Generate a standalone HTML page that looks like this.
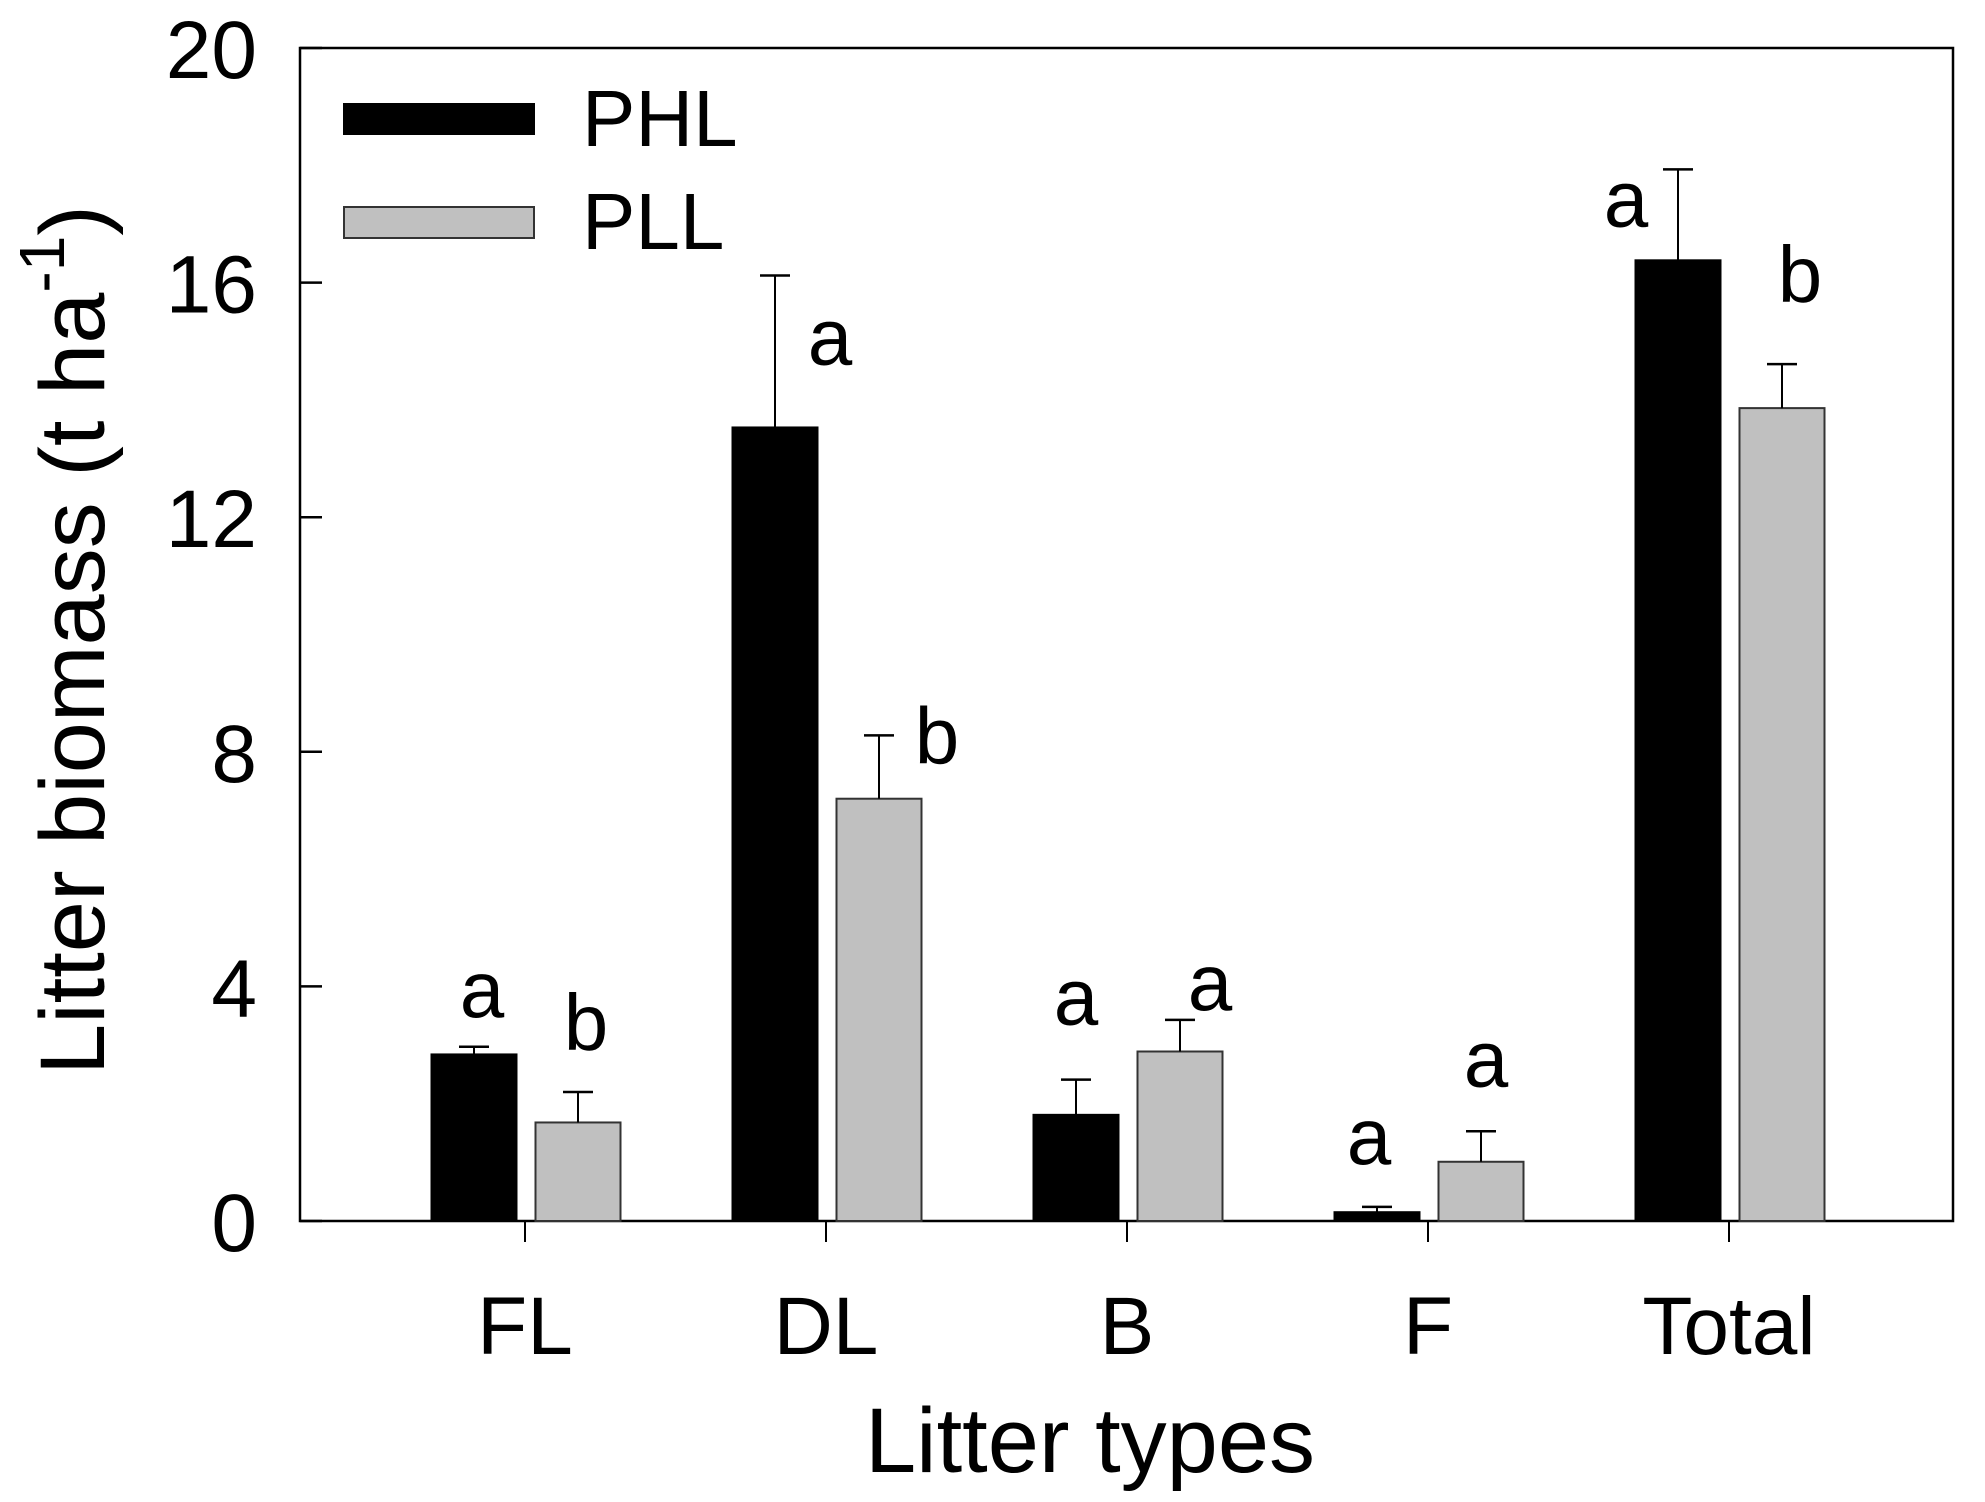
<!DOCTYPE html>
<html><head><meta charset="utf-8"><style>
html,body{margin:0;padding:0;background:#fff;}
svg{display:block;font-family:"Liberation Sans",sans-serif;}
</style></head><body>
<svg id="chart" width="1985" height="1502" viewBox="0 0 1985 1502">
<rect x="300" y="48" width="1653" height="1173" fill="#fff" stroke="#000" stroke-width="2.5"/>
<g id="yaxis"></g>
<g id="xaxis"></g>
<g id="bars"></g>
<text x="0" y="0" transform="translate(104,640) rotate(-90)" text-anchor="middle" font-size="92">Litter biomass (t ha<tspan font-size="64" dy="-40">-1</tspan><tspan dy="40">)</tspan></text>
<text x="1090" y="1472" text-anchor="middle" font-size="92">Litter types</text>
<g>
<rect x="343" y="103" width="192" height="32" fill="#000"/>
<text x="582" y="146" font-size="80">PHL</text>
<rect x="344" y="207" width="190" height="31" fill="#c0c0c0" stroke="#333" stroke-width="2"/>
<text x="582" y="249" font-size="80">PLL</text>
</g>
</svg>
<script>
const categories = ["FL","DL","B","F","Total"];
const phl = [2.84, 13.53, 1.81, 0.15, 16.38];
const phlErr = [0.13, 2.59, 0.60, 0.09, 1.55];
const pll = [1.68, 7.20, 2.89, 1.01, 13.86];
const pllErr = [0.52, 1.08, 0.54, 0.52, 0.75];
const phlLetters = ["a","a","a","a","a"];
const pllLetters = ["b","b","a","a","b"];
const yTicks = [0,4,8,12,16,20];

const NS = "http://www.w3.org/2000/svg";
const X0 = 300, X1 = 1953, Y0 = 1221, Y1 = 48, YMAX = 20;
const y = v => Y0 - (v / YMAX) * (Y0 - Y1);
const xc = i => 525 + i * 301;
function mk(tag, attrs, parent) {
  const e = document.createElementNS(NS, tag);
  for (const k in attrs) e.setAttribute(k, attrs[k]);
  parent.appendChild(e);
  return e;
}
const ya = document.getElementById('yaxis');
yTicks.forEach(t => {
  const l = mk('line', {x1: X0, x2: X0 + 22, y1: y(t), y2: y(t), stroke: '#000', 'stroke-width': 2.5}, ya);
  
  
  const tx = mk('text', {x: 257, y: y(t) + 30, 'text-anchor': 'end', 'font-size': 82}, ya);
  tx.textContent = t;
  
  
});
const xa = document.getElementById('xaxis');
categories.forEach((c, i) => {
  const l = mk('line', {x1: xc(i), x2: xc(i), y1: Y0, y2: 1242, stroke: '#000', 'stroke-width': 2}, xa);
  
  
  const tx = mk('text', {x: xc(i), y: 1354, 'text-anchor': 'middle', 'font-size': 82}, xa);
  tx.textContent = c;
  
  
});
const bg = document.getElementById('bars');
const BW = 85;
const phlLetterDx = [8, 55, 0, -8, -52];
const pllLetterDx = [8, 58, 30, 5, 18];
const phlLetterDy = [-30, 89, -55, -43, 57];
const pllLetterDy = [-42, 28, -10, -45, -62];
function drawBar(v, e, cx, fill, stroke, name, letter, ldx, ldy) {
  const r = mk('rect', {x: cx - BW/2, y: y(v), width: BW, height: Y0 - y(v), fill: fill, stroke: stroke, 'stroke-width': 2}, bg);
  
  
  const top = y(v + e);
  const el = mk('line', {x1: cx, x2: cx, y1: y(v), y2: top, stroke: '#000', 'stroke-width': 2}, bg);
  
  
  const cap = mk('line', {x1: cx - 15, x2: cx + 15, y1: top, y2: top, stroke: '#000', 'stroke-width': 2.5}, bg);
  
  
  const t = mk('text', {x: cx + ldx, y: top + ldy, 'text-anchor': 'middle', 'font-size': 80}, bg);
  t.textContent = letter;
  
  
}
categories.forEach((c, i) => {
  drawBar(phl[i], phlErr[i], xc(i) - 51, '#000', '#000', 'bar-phl-' + c.toLowerCase(), phlLetters[i], phlLetterDx[i], phlLetterDy[i]);
  drawBar(pll[i], pllErr[i], xc(i) + 53, '#c0c0c0', '#333', 'bar-pll-' + c.toLowerCase(), pllLetters[i], pllLetterDx[i], pllLetterDy[i]);
});
</script>
</body></html>
